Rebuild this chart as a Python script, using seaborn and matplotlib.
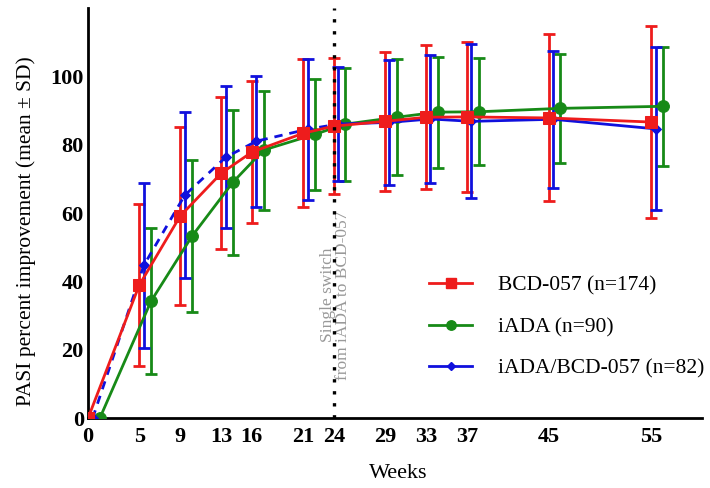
import numpy as np
import pandas as pd
import matplotlib
matplotlib.use("Agg")
import matplotlib.pyplot as plt
import seaborn as sns
from matplotlib.lines import Line2D

weeks = [0, 5, 9, 13, 16, 21, 24, 29, 33, 37, 45, 55]
week_ticks = [0, 5, 9, 13, 16, 21, 24, 29, 33, 37, 45, 55]

bcd_mean = [0, 38.9, 59.1, 71.6, 77.8, 83.3, 85.4, 86.8, 88.0, 88.1, 87.8, 86.6]
bcd_sd = [0, 23.7, 26.0, 22.2, 20.8, 21.6, 19.8, 20.4, 21.0, 22.0, 24.4, 28.0]

iada_mean = [0, 34.2, 53.2, 69.0, 78.4, 83.0, 86.0, 88.0, 89.5, 89.6, 90.6, 91.2]
iada_sd = [0, 21.3, 22.2, 21.2, 17.4, 16.2, 16.5, 16.9, 16.2, 15.7, 15.9, 17.4]

switch_mean = [0, 44.7, 65.2, 76.3, 81.0, 84.5, 86.0, 86.5, 87.5, 86.8, 87.4, 84.6]
switch_sd = [0, 24.2, 24.3, 20.7, 19.1, 20.6, 16.7, 18.3, 18.6, 22.5, 20.1, 23.8]

labels = ["BCD-057 (n=174)", "iADA (n=90)", "iADA/BCD-057 (n=82)"]
colors = ["#ee1c1c", "#178a17", "#1010dd"]
markers = ["s", "o", "D"]
msizes = [9, 8.5, 5.5]
offsets = [0.0, 1.15, 0.45]

plt.rcParams["font.family"] = ["Liberation Serif", "DejaVu Serif"]

fig = plt.figure(figsize=(7.10, 4.88), dpi=100)
ax = fig.add_axes([0.124, 0.143, 0.865, 0.841])

series = [(bcd_mean, bcd_sd), (iada_mean, iada_sd), (switch_mean, switch_sd)]

rows = []
for lab, (m, s), off in zip(labels, series, offsets):
    for w, mv, sv in zip(weeks, m, s):
        rows.append({"group": lab, "x": w + off, "week": w, "mean": mv, "sd": sv})
df = pd.DataFrame(rows)

# vertical switch line
ax.axvline(24, color="black", linestyle=(0, (1, 2.6)), linewidth=2.4, zorder=6)
ax.text(24.2, 36, "Single switch\nfrom iADA to BCD-057", rotation=90,
        ha="center", va="center", color="#999999", fontsize=12.5,
        linespacing=0.95, zorder=2)

for i, (lab, col, mk, ms) in enumerate(zip(labels, colors, markers, msizes)):
    d = df[df["group"] == lab]
    nz = d[d["sd"] > 0]
    ax.errorbar(nz["x"], nz["mean"], yerr=nz["sd"], fmt="none", ecolor=col,
                elinewidth=2, capsize=4, capthick=2, zorder=3)
    if i == 2:
        d1 = d[d["week"] <= 24]
        d2 = d[d["week"] >= 24]
        sns.lineplot(data=d1, x="x", y="mean", ax=ax, color=col, linewidth=2,
                     linestyle=(0, (3, 2.5)), marker=mk, markersize=ms,
                     markeredgecolor=col, legend=False, zorder=4, sort=False)
        sns.lineplot(data=d2, x="x", y="mean", ax=ax, color=col, linewidth=2,
                     marker=mk, markersize=ms, markeredgecolor=col,
                     legend=False, zorder=4, sort=False)
    else:
        sns.lineplot(data=d, x="x", y="mean", ax=ax, color=col, linewidth=2,
                     marker=mk, markersize=ms, markeredgecolor=col,
                     legend=False, zorder=5 if i == 0 else 4, sort=False)

ax.set_xlim(0, 60)
ax.set_ylim(0, 120)
ax.set_xticks(week_ticks)
ax.set_xticklabels([str(w) for w in week_ticks], fontweight="bold", fontsize=16)
ax.set_yticks([0, 20, 40, 60, 80, 100])
ax.set_yticklabels(["0", "20", "40", "60", "80", "100"], fontweight="bold", fontsize=16)
ax.tick_params(axis="x", length=0, pad=6)
ax.tick_params(axis="y", length=0, pad=3)
for sp in ["top", "right"]:
    ax.spines[sp].set_visible(False)
for sp in ["left", "bottom"]:
    ax.spines[sp].set_linewidth(2)
    ax.spines[sp].set_color("black")
ax.set_xlabel("Weeks", fontsize=16)
ax.xaxis.set_label_coords(0.505, -0.112)
ax.set_ylabel("PASI percent improvement (mean ± SD)", fontsize=15.5)
ax.yaxis.set_label_coords(-0.084, 0.455)

handles = [Line2D([0], [0], color=c, marker=m, markersize=s * 0.8, linewidth=2)
           for c, m, s in zip(colors, markers, msizes)]
ax.legend(handles, labels, loc="center left", bbox_to_anchor=(0.524, 0.222),
          frameon=False, fontsize=15.5, handlelength=2.0, labelspacing=1.0,
          handletextpad=1.2)

fig.savefig("out.png", dpi=100)
